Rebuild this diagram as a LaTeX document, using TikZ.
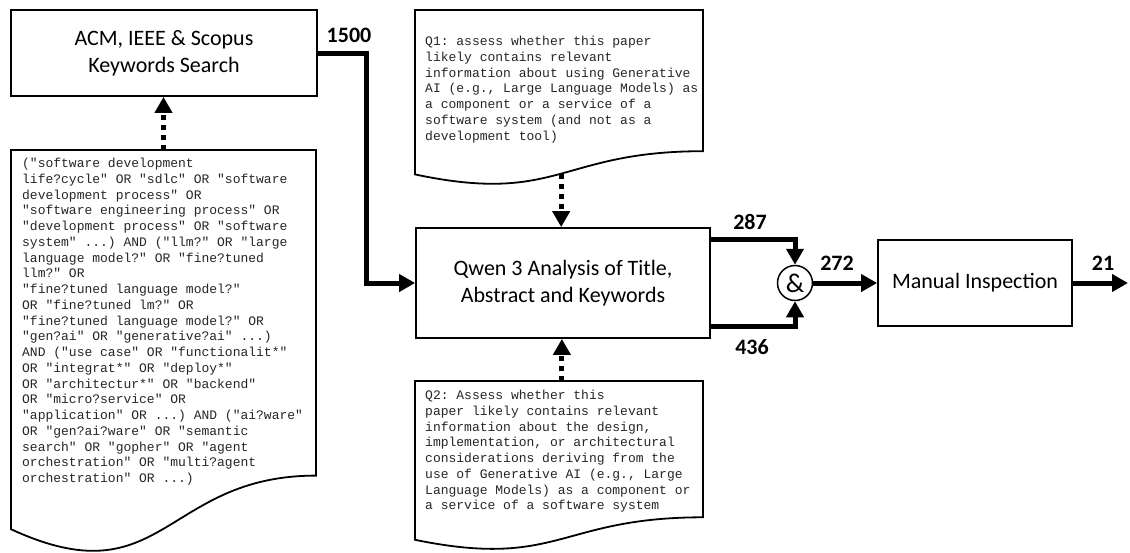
\documentclass[tikz,border=0pt]{standalone}
\usepackage{fontspec}
\setmainfont{Carlito}
\setmonofont{Liberation Mono}
\usepackage{tikz}
\usetikzlibrary{arrows.meta,calc,positioning}

\tikzset{
  box/.style={draw, line width=1.8pt, fill=white, align=center, inner sep=0pt, font=\fontsize{22}{27}\selectfont},
  doc/.style={draw, line width=1.8pt, fill=white},
  doctext/.style={anchor=north west, align=left, inner sep=0pt, text=black!85, font=\ttfamily\fontsize{13}{15.75}\selectfont},
  flow/.style={line width=5pt, -{Triangle[length=16pt,width=17pt]}},
  dotflow/.style={line width=5pt, dash pattern=on 5pt off 5pt, -{Triangle[length=16pt,width=17pt]}},
  count/.style={inner sep=0pt, font=\bfseries\fontsize{22}{22}\selectfont}
}

\begin{document}
\begin{tikzpicture}[x=1pt, y=-1pt]
\useasboundingbox (0,0) rectangle (1130,552);

\node[box, minimum width=306pt, minimum height=86pt] (search) at (164,53) {ACM, IEEE \& Scopus\\Keywords Search};
\node[box, minimum width=294pt, minimum height=110pt] (qwen) at (563,283) {Qwen 3 Analysis of Title,\\Abstract and Keywords};
\node[box, minimum width=194pt, minimum height=86pt] (manual) at (975,283) {Manual Inspection};
\node[circle, draw, line width=1.5pt, minimum size=35pt, inner sep=0pt, font=\fontsize{27}{27}\selectfont] (amp) at (795,283) {\&};
\coordinate (out) at (1128,283);

% search string
\draw[doc] (11,150) -- coordinate[pos=0.5] (querytop) (316,150) -- (316,475.6)
  .. controls (163.5,475.6) and (163.5,599.6) .. (11,529.2) -- cycle;
\node[doctext] (query) at (22,158) {("software development\\
life?cycle" OR "sdlc" OR "software\\
development process" OR\\
"software engineering process" OR\\
"development process" OR "software\\
system" ...) AND ("llm?" OR "large\\
language model?" OR "fine?tuned\\
llm?" OR\\
"fine?tuned language model?"\\
OR "fine?tuned lm?" OR\\
"fine?tuned language model?" OR\\
"gen?ai" OR "generative?ai" ...)\\
AND ("use case" OR "functionalit*"\\
OR "integrat*" OR "deploy*"\\
OR "architectur*" OR "backend"\\
OR "micro?service" OR\\
"application" OR ...) AND ("ai?ware"\\
OR "gen?ai?ware" OR "semantic\\
search" OR "gopher" OR "agent\\
orchestration" OR "multi?agent\\
orchestration" OR ...)};

% prompts
\draw[doc] (415,10) -- (703,10) -- (703,151.2)
  .. controls (559,151.2) and (559,204.9) .. coordinate[pos=0.49] (qonebot) (415,174.4) -- cycle;
\node[doctext] (qone) at (425,36) {Q1: assess whether this paper\\
likely contains relevant\\
information about using Generative\\
AI (e.g., Large Language Models) as\\
a component or a service of a\\
software system (and not as a\\
development tool)};

\draw[doc] (415,381) -- coordinate[pos=0.51] (qtwotop) (703,381) -- (703,517.3)
  .. controls (559,517.3) and (559,569.3) .. (415,539.8) -- cycle;
\node[doctext] (qtwo) at (425,390) {Q2: Assess whether this\\
paper likely contains relevant\\
information about the design,\\
implementation, or architectural\\
considerations deriving from the\\
use of Generative AI (e.g., Large\\
Language Models) as a component or\\
a service of a software system};

% connectors
\draw[dotflow] (querytop) -- (querytop |- search.south);
\draw[dotflow] (qonebot) -- (qonebot |- qwen.north);
\draw[dotflow] (qtwotop) -- (qtwotop |- qwen.south);
\draw[flow] (search.east) -- ++(49,0) |- (qwen.west);
\draw[flow] ($(qwen.north east)+(0,12)$) -| (amp.north);
\draw[flow] ($(qwen.south east)+(0,-12)$) -| (amp.south);
\draw[flow] (amp.east) -- (manual.west);
\draw[flow] (manual.east) -- (out);

\node[count] (n1500) at (349,35) {1500};
\node[count] (n287) at (750,222) {287};
\node[count] (n436) at (752,347) {436};
\node[count] (n272) at (837,263) {272};
\node[count] (n21) at (1103,263) {21};
\end{tikzpicture}
\end{document}
